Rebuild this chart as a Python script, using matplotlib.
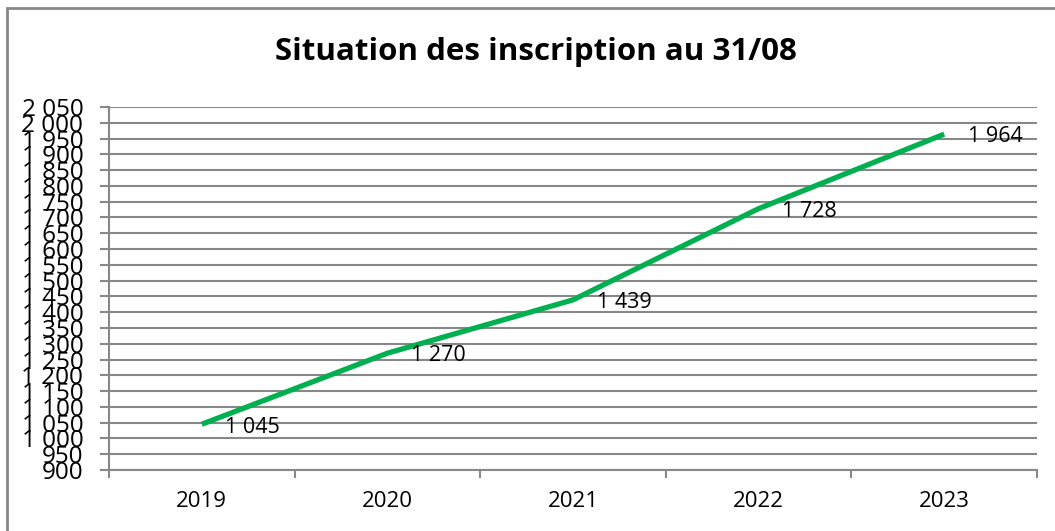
import matplotlib.pyplot as plt
from matplotlib.patches import Rectangle

annees = ['2019', '2020', '2021', '2022', '2023']
inscrits = [1045, 1270, 1439, 1728, 1964]
titre = 'Situation des inscription au 31/08'


def fmt(v):
    return '{:,}'.format(int(v)).replace(',', ' ')


plt.rcParams['font.family'] = ['Open Sans', 'DejaVu Sans']

W, H = 1055, 531
fig = plt.figure(figsize=(W / 100, H / 100), dpi=100)
ax = fig.add_axes([109 / W, 1 - 470 / H, (1037 - 109) / W, (470 - 107) / H])

grid_c = '#888888'
x = list(range(len(annees)))
ax.plot(x, inscrits, color='#00B050', lw=3.8, solid_capstyle='butt', zorder=3)
for xi, v in zip(x, inscrits):
    ax.annotate(fmt(v), (xi, v), xytext=(17, -2), textcoords='offset points',
                ha='left', va='center', fontsize=15.5, color='black')

ax.set_xlim(-0.5, len(annees) - 0.5)
ax.set_ylim(900, 2050)
yt = list(range(900, 2051, 50))
ax.set_yticks(yt)
ax.set_yticklabels([fmt(v) for v in yt], fontsize=17.5)
ax.set_xticks(x)
ax.set_xticklabels(annees, fontsize=16)
ax.set_xticks([i + 0.5 for i in range(-1, len(annees))], minor=True)
ax.tick_params(axis='x', which='major', length=0, pad=15)
ax.tick_params(axis='x', which='minor', length=6, color=grid_c, width=1.5)
ax.tick_params(axis='y', length=6.5, color=grid_c, width=1.5, pad=12)
ax.grid(axis='y', color=grid_c, lw=1.5)
ax.set_axisbelow(True)
for s in ['top', 'right']:
    ax.spines[s].set_visible(False)
for s in ['left', 'bottom']:
    ax.spines[s].set_color(grid_c)
    ax.spines[s].set_linewidth(1.5)

fig.text(536 / W, 1 - 52 / H, titre, ha='center', va='center',
         fontsize=22.5, fontweight='bold')

fig.patches.append(Rectangle((7 / W, -0.1), 1.2, 1 - 8 / H + 0.1,
                             transform=fig.transFigure, fill=False,
                             edgecolor='#888888', lw=2))

fig.savefig('out.png', dpi=100)
